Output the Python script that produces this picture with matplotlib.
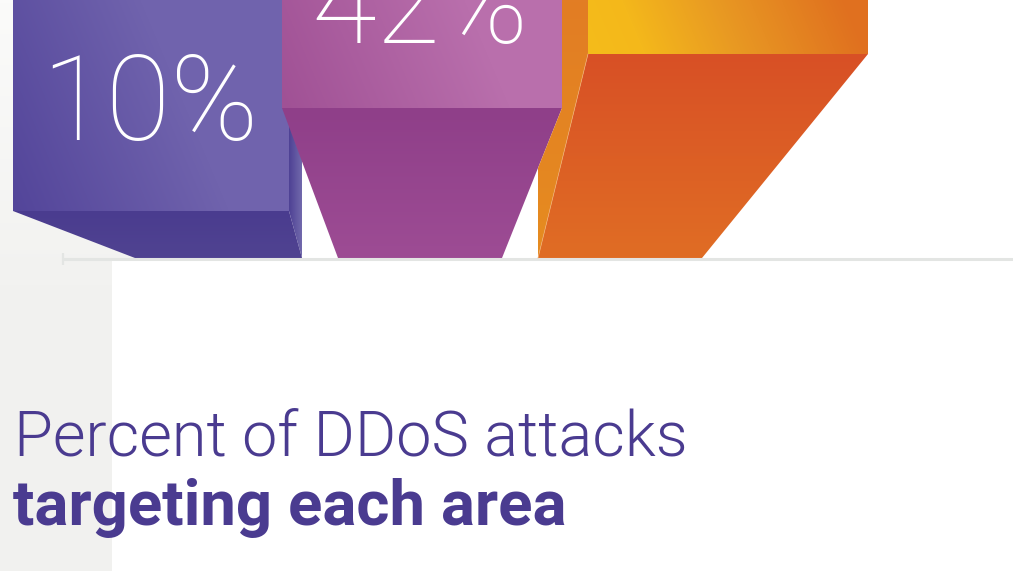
import numpy as np
import matplotlib
matplotlib.use("Agg")
import matplotlib.pyplot as plt
from matplotlib.colors import LinearSegmentedColormap
from matplotlib.patches import Polygon

# height of each front face's lower edge above the baseline
bar_names = ["purple", "magenta", "orange"]
bar_lift = [47, 150, 204]
bar_labels = ["10%", "42%", None]
title_light = "Percent of DDoS attacks"
title_bold = "targeting each area"

INK = "#4a3b90"
TOP = 258  # figure top edge, measured up from the baseline

plt.rcParams["font.family"] = ["Roboto", "DejaVu Sans"]

fig = plt.figure(figsize=(10.13, 5.71), dpi=100)
ax = fig.add_axes([0, 0, 1, 1])


def paint(pts, colors, mode, x0=None, h0=None, length=None):
    # gradient image clipped to a polygon, y is height above baseline
    pts = np.array(pts, dtype=float)
    xl, xr = pts[:, 0].min(), pts[:, 0].max()
    hl, hr = pts[:, 1].min(), pts[:, 1].max()
    xs = np.linspace(xl, xr, max(int(xr - xl), 2))
    hs = np.linspace(hl, hr, max(int(hr - hl), 2))
    gx, gh = np.meshgrid(xs, hs)
    if mode == "diag":
        t = (gx - x0 + 0.42 * (gh - h0)) / length
    elif mode == "down":
        t = (hr - gh) / (hr - hl)
    else:
        t = (gx - xl) / (xr - xl)
    cmap = LinearSegmentedColormap.from_list("g", colors)
    im = ax.imshow(np.clip(t, 0, 1), cmap=cmap, vmin=0, vmax=1, origin="lower",
                   extent=(xl, xr, hl, hr), aspect="auto", interpolation="bilinear")
    clip = Polygon(pts, transform=ax.transData, fc="none", ec="none")
    ax.add_patch(clip)
    im.set_clip_path(clip)


# grey band behind the left side
paint([(0, TOP), (135, TOP), (135, 0), (112, 0), (112, -313), (0, -313)],
      ["#fbfbfa", "#f2f2f0", "#f1f1ef"], "down")

# baseline and its end tick
ax.plot([62, 1013], [-1.3, -1.3], color="#e3e5e3", lw=2.2, solid_capstyle="butt", zorder=1)
ax.plot([63, 63], [5, -7], color="#e3e5e3", lw=1.6, solid_capstyle="butt", zorder=1)

# purple bar
lift = bar_lift[0]
paint([(289, 160), (302, 160), (302, 0), (289, lift)], ["#4f4295", "#7068ab"], "across")
paint([(13, lift), (289, lift), (302, 0), (135, 0)], ["#4a3c8f", "#504391"], "down")
paint([(13, lift), (289, lift), (289, TOP), (13, TOP)], ["#53459a", "#7063ad"], "diag",
      13, lift, 217)

# magenta bar
lift = bar_lift[1]
paint([(282, lift), (562, lift), (502, 0), (338, 0)], ["#8f3f89", "#9d4c94"], "down")
paint([(282, lift), (562, lift), (562, TOP), (282, TOP)], ["#a05195", "#b96fac"], "diag",
      282, lift, 229)

# orange bar
lift = bar_lift[2]
paint([(562, TOP), (588, TOP), (588, lift), (538, 0), (538, 90), (562, 150)],
      ["#e27d24", "#e68c20"], "down")
paint([(588, lift), (868, lift), (702, 0), (538, 0)], ["#d85026", "#e06d24"], "down")
paint([(588, lift), (868, lift), (868, TOP), (588, TOP)],
      [(0, "#f5bc1a"), (0.2, "#f4b81b"), (0.55, "#e89823"), (1, "#e0701f")], "diag", 588, lift, 280)
ax.plot([588, 538], [lift, 0], color="#f0b070", lw=0.5, zorder=5)

# percent labels on the front faces
ax.text(41, 118, bar_labels[0], color="white", fontsize=85, fontweight=100, va="baseline", zorder=6)
ax.text(311, 215, bar_labels[1], color="white", fontsize=85, fontweight=100, va="baseline", zorder=6)

# title
ax.text(14, -197.5, title_light, color=INK, fontsize=45.4, fontweight=300, va="baseline", zorder=6)
ax.text(13, -267.5, title_bold, color=INK, fontsize=45.7, fontweight="bold", va="baseline", zorder=6)

ax.set_xlim(0, 1013)
ax.set_ylim(-313, TOP)
ax.axis("off")
fig.savefig("out.png", dpi=100)
